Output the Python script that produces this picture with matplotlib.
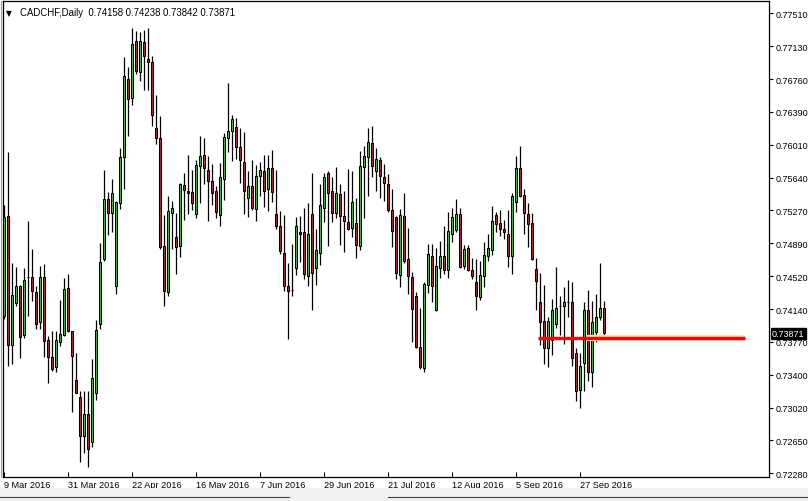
import matplotlib
matplotlib.use("Agg")
import matplotlib.pyplot as plt
import matplotlib.patches as mpatches
import numpy as np
import pandas as pd

plt.rcParams['font.family'] = ['Liberation Sans', 'DejaVu Sans']

# ---------------- data (daily CADCHF candles) ----------------
start_date = "2016-03-09"

opens = [
    0.74066, 0.75203, 0.73736, 0.74214, 0.74407, 0.73850, 0.74509, 0.74509, 0.74339, 0.73997,
    0.74509, 0.73793, 0.73599, 0.73486, 0.73770, 0.73850, 0.74384, 0.73895, 0.73338, 0.73145,
    0.72701, 0.72951, 0.72633, 0.73191, 0.73975, 0.74714, 0.75396, 0.75237, 0.74407, 0.75351,
    0.75874, 0.76760, 0.76544, 0.77192, 0.76840, 0.77181, 0.76988, 0.76954, 0.76203, 0.76090,
    0.74862, 0.74339, 0.75237, 0.74964, 0.74862, 0.75555, 0.75487, 0.75476, 0.75226, 0.75772,
    0.75896, 0.75726, 0.75601, 0.75487, 0.75214, 0.75624, 0.76090, 0.76170, 0.76215, 0.75987,
    0.75817, 0.75407, 0.75544, 0.75282, 0.75658, 0.75714, 0.75510, 0.75749, 0.75226, 0.75089,
    0.74782, 0.74407, 0.74361, 0.74612, 0.75021, 0.75021, 0.74520, 0.75226, 0.74612, 0.74782,
    0.75294, 0.75692, 0.75487, 0.75237, 0.75453, 0.75203, 0.75135, 0.75066, 0.75123, 0.74862,
    0.75760, 0.75874, 0.76033, 0.75714, 0.75839, 0.75646, 0.75567, 0.75271, 0.75191, 0.74532,
    0.75203, 0.74714, 0.74509, 0.74293, 0.73713, 0.73475, 0.74418, 0.74748, 0.74134, 0.74612,
    0.74748, 0.74589, 0.74998, 0.75044, 0.75226, 0.74634, 0.74839, 0.74589, 0.74452, 0.74282,
    0.74520, 0.74748, 0.74816, 0.75214, 0.75123, 0.75055, 0.74998, 0.74748, 0.75362, 0.75749,
    0.75441, 0.75226, 0.75123, 0.74600, 0.74225, 0.74009, 0.73702, 0.73793, 0.73975, 0.74179,
    0.74179, 0.74225, 0.74225, 0.73645, 0.73224, 0.73531, 0.74134, 0.73429, 0.73884, 0.74054,
    0.74158,
]
highs = [
    0.75328, 0.75930, 0.74668, 0.74623, 0.74418, 0.74612, 0.75146, 0.74827, 0.74407, 0.74634,
    0.74657, 0.73839, 0.73895, 0.73895, 0.74248, 0.74498, 0.74543, 0.73900, 0.73645, 0.73213,
    0.73213, 0.73213, 0.73577, 0.74020, 0.74896, 0.75722, 0.75476, 0.75620, 0.75370, 0.75976,
    0.77011, 0.76897, 0.77340, 0.77306, 0.77295, 0.77318, 0.77340, 0.77022, 0.76578, 0.76340,
    0.75214, 0.75430, 0.75373, 0.75237, 0.75578, 0.75692, 0.75896, 0.75722, 0.75839, 0.76112,
    0.76090, 0.75885, 0.75794, 0.75544, 0.75806, 0.76147, 0.76715, 0.76351, 0.76317, 0.76203,
    0.76158, 0.75714, 0.75839, 0.75783, 0.75817, 0.75896, 0.75896, 0.75953, 0.75726, 0.75260,
    0.75214, 0.74668, 0.74884, 0.75191, 0.75203, 0.75294, 0.75351, 0.75692, 0.75055, 0.75567,
    0.75692, 0.75714, 0.75646, 0.75760, 0.75567, 0.75487, 0.75737, 0.75714, 0.75407, 0.75942,
    0.75999, 0.76203, 0.76226, 0.75976, 0.75874, 0.75794, 0.75681, 0.75510, 0.75203, 0.75282,
    0.75464, 0.75066, 0.74566, 0.74339, 0.74157, 0.74452, 0.74884, 0.74884, 0.74839, 0.74918,
    0.75089, 0.75248, 0.75294, 0.75396, 0.75294, 0.74873, 0.74873, 0.74725, 0.74714, 0.74691,
    0.74907, 0.74998, 0.75316, 0.75248, 0.75271, 0.75157, 0.75271, 0.75464, 0.75885, 0.75999,
    0.75510, 0.75351, 0.75237, 0.74725, 0.74555, 0.74418, 0.74054, 0.74259, 0.74623, 0.74293,
    0.74395, 0.74475, 0.74452, 0.73702, 0.73645, 0.74225, 0.74361, 0.74236, 0.74316, 0.74668,
    0.74238,
]
lows = [
    0.74032, 0.73497, 0.73520, 0.74179, 0.73588, 0.73816, 0.74066, 0.74236, 0.73918, 0.73918,
    0.73599, 0.73304, 0.73440, 0.73429, 0.73725, 0.73839, 0.73880, 0.72974, 0.73185, 0.72406,
    0.72508, 0.72349, 0.72576, 0.73111, 0.73918, 0.74691, 0.74987, 0.75021, 0.74316, 0.75282,
    0.75510, 0.76112, 0.76465, 0.76817, 0.76738, 0.76635, 0.76635, 0.76226, 0.76021, 0.74827,
    0.74179, 0.74293, 0.74827, 0.74543, 0.74737, 0.75157, 0.75226, 0.75271, 0.75180, 0.75351,
    0.75567, 0.75146, 0.75328, 0.75180, 0.75089, 0.75385, 0.75930, 0.75828, 0.75851, 0.75578,
    0.75226, 0.75191, 0.75271, 0.75146, 0.75430, 0.75305, 0.75260, 0.75362, 0.75055, 0.74770,
    0.74350, 0.73804, 0.74293, 0.74532, 0.74680, 0.74486, 0.74407, 0.74134, 0.74418, 0.74646,
    0.75135, 0.74862, 0.75135, 0.75180, 0.74873, 0.74793, 0.75044, 0.74964, 0.74725, 0.74816,
    0.75180, 0.75430, 0.75646, 0.75487, 0.75407, 0.75373, 0.75248, 0.74850, 0.74486, 0.74395,
    0.74668, 0.74316, 0.73770, 0.73705, 0.73463, 0.73429, 0.74327, 0.74225, 0.74125, 0.74498,
    0.74543, 0.74498, 0.74907, 0.75021, 0.74615, 0.74600, 0.74577, 0.74486, 0.74134, 0.74248,
    0.74395, 0.74691, 0.74759, 0.75021, 0.74975, 0.74941, 0.74623, 0.74543, 0.75248, 0.75420,
    0.74998, 0.74850, 0.74705, 0.74134, 0.73736, 0.73520, 0.73486, 0.73622, 0.73930, 0.73850,
    0.73747, 0.74054, 0.73497, 0.73100, 0.73020, 0.73213, 0.73327, 0.73259, 0.73770, 0.74020,
    0.73842,
]
closes = [
    0.75191, 0.73736, 0.74304, 0.74407, 0.73827, 0.74475, 0.74505, 0.74350, 0.73975, 0.74509,
    0.73782, 0.73599, 0.73463, 0.73793, 0.73861, 0.74373, 0.73890, 0.73610, 0.73191, 0.72701,
    0.72951, 0.72553, 0.73361, 0.73907, 0.74680, 0.75396, 0.75237, 0.75464, 0.75362, 0.75874,
    0.76795, 0.76533, 0.77158, 0.76851, 0.77192, 0.77022, 0.76954, 0.76351, 0.76090, 0.74850,
    0.74350, 0.75260, 0.75294, 0.74850, 0.75567, 0.75498, 0.75464, 0.75351, 0.75783, 0.75885,
    0.75749, 0.75601, 0.75464, 0.75248, 0.75646, 0.76101, 0.76170, 0.76306, 0.75987, 0.75839,
    0.75487, 0.75544, 0.75294, 0.75658, 0.75726, 0.75487, 0.75749, 0.75476, 0.75089, 0.74804,
    0.74407, 0.74350, 0.74356, 0.75089, 0.74998, 0.74543, 0.74998, 0.74555, 0.74816, 0.75328,
    0.75646, 0.75464, 0.75237, 0.75464, 0.75203, 0.75146, 0.75055, 0.75362, 0.74873, 0.75771,
    0.75885, 0.76044, 0.75771, 0.75851, 0.75658, 0.75578, 0.75271, 0.75032, 0.74555, 0.75214,
    0.74691, 0.74520, 0.74145, 0.73713, 0.73486, 0.74430, 0.74770, 0.74407, 0.74634, 0.74748,
    0.74589, 0.75032, 0.75191, 0.75226, 0.74623, 0.74827, 0.74589, 0.74520, 0.74293, 0.74532,
    0.74759, 0.74839, 0.75146, 0.75112, 0.75055, 0.75021, 0.74748, 0.75430, 0.75749, 0.75430,
    0.75237, 0.75112, 0.74714, 0.74464, 0.73997, 0.73702, 0.74009, 0.74134, 0.74157, 0.74175,
    0.74225, 0.74221, 0.73588, 0.73213, 0.73497, 0.74134, 0.73429, 0.73997, 0.74054, 0.74157,
    0.73871,
]

date_labels = ["9 Mar 2016", "31 Mar 2016", "22 Apr 2016", "16 May 2016", "7 Jun 2016",
               "29 Jun 2016", "21 Jul 2016", "12 Aug 2016", "5 Sep 2016", "27 Sep 2016"]
price_ticks = [0.77510, 0.77130, 0.76760, 0.76390, 0.76010, 0.75640, 0.75270, 0.74890,
               0.74520, 0.74140, 0.73770, 0.73400, 0.73020, 0.72650, 0.72280]
price_labels = ["%.5f" % v for v in price_ticks]

title_text = "CADCHF,Daily  0.74158 0.74238 0.73842 0.73871"
last_price = 0.73871
hline_price = 0.73820
hline_start_date = "2016-09-13"
hline_end_date = "2016-11-23"

# ---------------- figure ----------------
W, H = 808, 502
fig = plt.figure(figsize=(W / 100, H / 100), dpi=100)
fig.patch.set_facecolor("white")

ax_l, ax_r, ax_t, ax_b = 3, 769, 2, 478
ax = fig.add_axes([ax_l / W, 1 - ax_b / H, (ax_r - ax_l) / W, (ax_b - ax_t) / H])

dates = pd.bdate_range(start_date, periods=len(opens))
idx = np.arange(len(opens))
o = np.array(opens); h = np.array(highs); l = np.array(lows); c = np.array(closes)

up = c > o
colors = np.where(up, "#22D422", "#F01010")

ax.vlines(idx, l, h, color="black", linewidth=0.9, zorder=2)
bottoms = np.minimum(o, c)
heights = np.abs(c - o)
ax.bar(idx, heights, bottom=bottoms, width=0.62, color=colors,
       edgecolor="black", linewidth=0.75, zorder=3)

# horizontal trend line (chart object), positioned on the business-day axis
all_days = pd.bdate_range(start_date, hline_end_date)
hstart = all_days.get_loc(pd.Timestamp(hline_start_date)) - 0.4
hend = all_days.get_loc(pd.Timestamp(hline_end_date)) + 0.3
ax.plot([hstart + 12, hend], [hline_price, hline_price], color="#FFE0B0",
        linewidth=4.5, zorder=4, solid_capstyle="butt")
ax.plot([hstart, hend], [hline_price, hline_price], color="#FF0000",
        linewidth=2.4, zorder=5, solid_capstyle="butt")

# axes scaling: 1 bar = 4 px
x0 = -0.25
ax.set_xlim(x0, x0 + (ax_r - ax_l) / 4.0)
ax.set_ylim(0.72235, 0.77647)

# x ticks
tick_pos = [dates.get_loc(pd.Timestamp(pd.to_datetime(s, format="%d %b %Y"))) for s in date_labels]
ax.set_xticks(tick_pos)
ax.set_xticklabels(date_labels, fontsize=6.6, ha="left")
for lab in ax.get_xticklabels():
    lab.set_horizontalalignment("left")
ax.tick_params(axis="x", direction="in", length=3.5, width=0.8, pad=2.2, colors="black")

# y ticks on right
ax.yaxis.tick_right()
ax.set_yticks(price_ticks)
ax.set_yticklabels(price_labels, fontsize=6.5)
ax.tick_params(axis="y", direction="out", length=3, width=0.8, pad=1.5, colors="black")

for sp in ax.spines.values():
    sp.set_color("black")
    sp.set_linewidth(0.9)

# title
ax.text(0.004, 0.985, "\u25BC", transform=ax.transAxes, fontsize=5.5,
        va="top", ha="left", family=["DejaVu Sans"])
ax.text(0.022, 0.988, title_text, transform=ax.transAxes, fontsize=6.9,
        va="top", ha="left")

# current price label on the price axis
ax.annotate("%.5f" % last_price, xy=(1.0, last_price), xycoords=("axes fraction", "data"),
            xytext=(2.2, 0), textcoords="offset points", fontsize=6.5, color="white",
            va="center", ha="left",
            bbox=dict(boxstyle="square,pad=0.12", fc="black", ec="black"),
            annotation_clip=False, zorder=10)

# bottom tab strip
fig.patches.append(mpatches.Rectangle((0, 0), 1, 13 / H, transform=fig.transFigure,
                                      facecolor="#F0F0F0", edgecolor="none", zorder=0))
fig.lines.append(plt.Line2D([0, 289 / W], [4 / H, 4 / H], transform=fig.transFigure,
                            color="#404040", linewidth=0.8))
fig.lines.append(plt.Line2D([388 / W, 1], [4 / H, 4 / H], transform=fig.transFigure,
                            color="#404040", linewidth=0.8))
fig.lines.append(plt.Line2D([1 / W, 1 / W], [1 - 2 / H, 1 - 478 / H], transform=fig.transFigure,
                            color="#A0A0A0", linewidth=0.8))

fig.savefig("out.png", dpi=100, facecolor="white")
